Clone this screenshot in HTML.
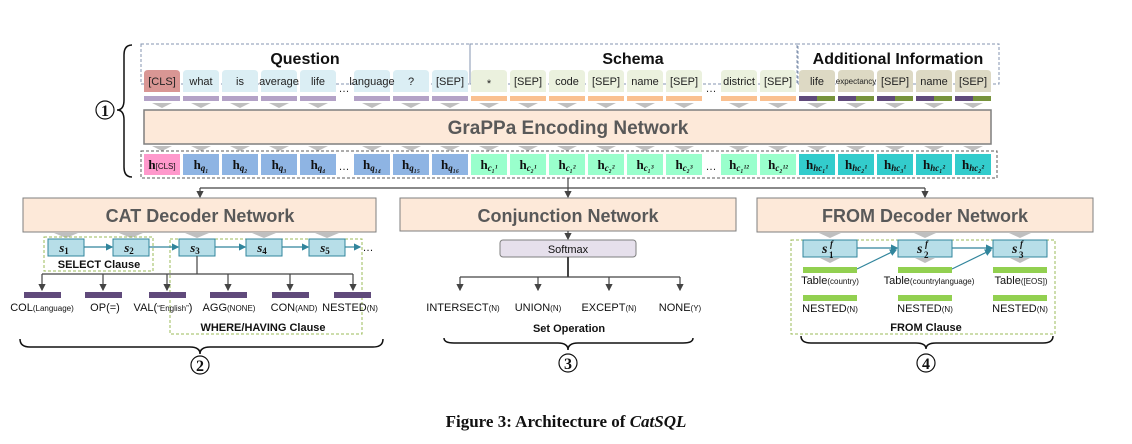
<!DOCTYPE html>
<html><head><meta charset="utf-8"><style>
html,body{margin:0;padding:0;background:#fff;}
svg{display:block;}
.tok{font-family:"Liberation Sans",sans-serif;font-size:11px;fill:#222;text-anchor:middle;}
.h{font-family:"Liberation Serif",serif;font-weight:bold;font-size:13px;fill:#111;text-anchor:middle;}
.sub{font-family:"Liberation Serif",serif;font-style:italic;font-weight:bold;font-size:9px;}
.lab{font-family:"Liberation Sans",sans-serif;font-size:11px;fill:#111;text-anchor:middle;}
.sm{font-size:8px;}
.big{font-family:"Liberation Sans",sans-serif;font-weight:bold;font-size:19px;fill:#595959;text-anchor:middle;}
.hd{font-family:"Liberation Sans",sans-serif;font-weight:bold;font-size:16px;fill:#111;text-anchor:middle;}
.cl{font-family:"Liberation Sans",sans-serif;font-weight:bold;font-size:11px;fill:#111;text-anchor:middle;}
.circ{font-family:"Liberation Serif",serif;font-weight:bold;font-size:16px;fill:#111;text-anchor:middle;}
.sf{font-family:"Liberation Serif",serif;font-weight:bold;font-style:italic;fill:#111;}
</style></head><body>
<svg width="1132" height="444" viewBox="0 0 1132 444" xmlns="http://www.w3.org/2000/svg">
<defs>
<marker id="ar" markerWidth="6" markerHeight="6" refX="5" refY="3" orient="auto"><path d="M0,0 L6,3 L0,6 z" fill="#444"/></marker>
<marker id="ab" markerWidth="6" markerHeight="6" refX="5" refY="3" orient="auto"><path d="M0,0 L6,3 L0,6 z" fill="#31859c"/></marker>
</defs>

<rect x="141" y="44" width="329" height="40" fill="none" stroke="#8496b0" stroke-dasharray="3,2"/>
<rect x="470" y="44" width="328" height="40" fill="none" stroke="#8496b0" stroke-dasharray="3,2"/>
<rect x="797" y="44" width="202" height="40" fill="none" stroke="#8496b0" stroke-dasharray="3,2"/>
<text x="305" y="64" class="hd">Question</text>
<text x="633" y="64" class="hd">Schema</text>
<text x="898" y="64" class="hd">Additional Information</text>

<g>
<path d="M144,92 V74 Q144,70 148,70 H176 Q180,70 180,74 V92 Z" fill="#d99694"/>
<path d="M183,92 V74 Q183,70 187,70 H215 Q219,70 219,74 V92 Z" fill="#dbeef4"/>
<path d="M222,92 V74 Q222,70 226,70 H254 Q258,70 258,74 V92 Z" fill="#dbeef4"/>
<path d="M261,92 V74 Q261,70 265,70 H293 Q297,70 297,74 V92 Z" fill="#dbeef4"/>
<path d="M300,92 V74 Q300,70 304,70 H332 Q336,70 336,74 V92 Z" fill="#dbeef4"/>
<path d="M354,92 V74 Q354,70 358,70 H386 Q390,70 390,74 V92 Z" fill="#dbeef4"/>
<path d="M393,92 V74 Q393,70 397,70 H425 Q429,70 429,74 V92 Z" fill="#dbeef4"/>
<path d="M432,92 V74 Q432,70 436,70 H464 Q468,70 468,74 V92 Z" fill="#dbeef4"/>
<path d="M471,92 V74 Q471,70 475,70 H503 Q507,70 507,74 V92 Z" fill="#ebf1de"/>
<path d="M510,92 V74 Q510,70 514,70 H542 Q546,70 546,74 V92 Z" fill="#ebf1de"/>
<path d="M549,92 V74 Q549,70 553,70 H581 Q585,70 585,74 V92 Z" fill="#ebf1de"/>
<path d="M588,92 V74 Q588,70 592,70 H620 Q624,70 624,74 V92 Z" fill="#ebf1de"/>
<path d="M627,92 V74 Q627,70 631,70 H659 Q663,70 663,74 V92 Z" fill="#ebf1de"/>
<path d="M666,92 V74 Q666,70 670,70 H698 Q702,70 702,74 V92 Z" fill="#ebf1de"/>
<path d="M721,92 V74 Q721,70 725,70 H753 Q757,70 757,74 V92 Z" fill="#ebf1de"/>
<path d="M760,92 V74 Q760,70 764,70 H792 Q796,70 796,74 V92 Z" fill="#ebf1de"/>
<path d="M799,92 V74 Q799,70 803,70 H831 Q835,70 835,74 V92 Z" fill="#ddd9c4"/>
<path d="M838,92 V74 Q838,70 842,70 H870 Q874,70 874,74 V92 Z" fill="#ddd9c4"/>
<path d="M877,92 V74 Q877,70 881,70 H909 Q913,70 913,74 V92 Z" fill="#ddd9c4"/>
<path d="M916,92 V74 Q916,70 920,70 H948 Q952,70 952,74 V92 Z" fill="#ddd9c4"/>
<path d="M955,92 V74 Q955,70 959,70 H987 Q991,70 991,74 V92 Z" fill="#ddd9c4"/>
</g>
<text x="162" y="85" class="tok">[CLS]</text>
<text x="201" y="85" class="tok">what</text>
<text x="240" y="85" class="tok">is</text>
<text x="279" y="85" class="tok">average</text>
<text x="318" y="85" class="tok">life</text>
<text x="344" y="92" class="tok">…</text>
<text x="372" y="85" class="tok">language</text>
<text x="411" y="85" class="tok">?</text>
<text x="450" y="85" class="tok">[SEP]</text>
<text x="489" y="87" class="tok">*</text>
<text x="528" y="85" class="tok">[SEP]</text>
<text x="567" y="85" class="tok">code</text>
<text x="606" y="85" class="tok">[SEP]</text>
<text x="645" y="85" class="tok">name</text>
<text x="684" y="85" class="tok">[SEP]</text>
<text x="711" y="92" class="tok">…</text>
<text x="739" y="85" class="tok">district</text>
<text x="778" y="85" class="tok">[SEP]</text>
<text x="817" y="85" class="tok">life</text>
<text x="856" y="84" class="tok" style="font-size:8px">expectancy</text>
<text x="895" y="85" class="tok">[SEP]</text>
<text x="934" y="85" class="tok">name</text>
<text x="973" y="85" class="tok">[SEP]</text>

<g fill="#b3a2c7">
<rect x="144" y="96" width="36" height="5"/><rect x="183" y="96" width="36" height="5"/><rect x="222" y="96" width="36" height="5"/><rect x="261" y="96" width="36" height="5"/><rect x="300" y="96" width="36" height="5"/><rect x="354" y="96" width="36" height="5"/><rect x="393" y="96" width="36" height="5"/><rect x="432" y="96" width="36" height="5"/>
</g>
<g fill="#fac090">
<rect x="471" y="96" width="36" height="5"/><rect x="510" y="96" width="36" height="5"/><rect x="549" y="96" width="36" height="5"/><rect x="588" y="96" width="36" height="5"/><rect x="627" y="96" width="36" height="5"/><rect x="666" y="96" width="36" height="5"/><rect x="721" y="96" width="36" height="5"/><rect x="760" y="96" width="36" height="5"/>
</g>
<g>
<rect x="799" y="96" width="18" height="5" fill="#604a7b"/><rect x="817" y="96" width="18" height="5" fill="#77933c"/>
<rect x="838" y="96" width="18" height="5" fill="#604a7b"/><rect x="856" y="96" width="18" height="5" fill="#77933c"/>
<rect x="877" y="96" width="18" height="5" fill="#604a7b"/><rect x="895" y="96" width="18" height="5" fill="#77933c"/>
<rect x="916" y="96" width="18" height="5" fill="#604a7b"/><rect x="934" y="96" width="18" height="5" fill="#77933c"/>
<rect x="955" y="96" width="18" height="5" fill="#604a7b"/><rect x="973" y="96" width="18" height="5" fill="#77933c"/>
</g>

<g fill="#bfbfbf">
<path d="M152,103 h20 l-10,5z"/><path d="M191,103 h20 l-10,5z"/><path d="M230,103 h20 l-10,5z"/><path d="M269,103 h20 l-10,5z"/><path d="M308,103 h20 l-10,5z"/><path d="M362,103 h20 l-10,5z"/><path d="M401,103 h20 l-10,5z"/><path d="M440,103 h20 l-10,5z"/><path d="M479,103 h20 l-10,5z"/><path d="M518,103 h20 l-10,5z"/><path d="M557,103 h20 l-10,5z"/><path d="M596,103 h20 l-10,5z"/><path d="M635,103 h20 l-10,5z"/><path d="M674,103 h20 l-10,5z"/><path d="M729,103 h20 l-10,5z"/><path d="M768,103 h20 l-10,5z"/><path d="M807,103 h20 l-10,5z"/><path d="M846,103 h20 l-10,5z"/><path d="M885,103 h20 l-10,5z"/><path d="M924,103 h20 l-10,5z"/><path d="M963,103 h20 l-10,5z"/>
<path d="M152,146 h20 l-10,5z"/><path d="M191,146 h20 l-10,5z"/><path d="M230,146 h20 l-10,5z"/><path d="M269,146 h20 l-10,5z"/><path d="M308,146 h20 l-10,5z"/><path d="M362,146 h20 l-10,5z"/><path d="M401,146 h20 l-10,5z"/><path d="M440,146 h20 l-10,5z"/><path d="M479,146 h20 l-10,5z"/><path d="M518,146 h20 l-10,5z"/><path d="M557,146 h20 l-10,5z"/><path d="M596,146 h20 l-10,5z"/><path d="M635,146 h20 l-10,5z"/><path d="M674,146 h20 l-10,5z"/><path d="M729,146 h20 l-10,5z"/><path d="M768,146 h20 l-10,5z"/><path d="M807,146 h20 l-10,5z"/><path d="M846,146 h20 l-10,5z"/><path d="M885,146 h20 l-10,5z"/><path d="M924,146 h20 l-10,5z"/><path d="M963,146 h20 l-10,5z"/>
</g>

<rect x="144" y="110" width="847" height="34" fill="#fde9d9" stroke="#7f7f7f" stroke-width="1.5"/>
<text x="568" y="134" class="big">GraPPa Encoding Network</text>

<rect x="141" y="151" width="856" height="27" fill="none" stroke="#595959" stroke-dasharray="3,2"/>
<g>
<rect x="144" y="154" width="36" height="21" fill="#ff99cc"/>
<rect x="183" y="154" width="36" height="21" fill="#8eb4e3"/><rect x="222" y="154" width="36" height="21" fill="#8eb4e3"/><rect x="261" y="154" width="36" height="21" fill="#8eb4e3"/><rect x="300" y="154" width="36" height="21" fill="#8eb4e3"/><rect x="354" y="154" width="36" height="21" fill="#8eb4e3"/><rect x="393" y="154" width="36" height="21" fill="#8eb4e3"/><rect x="432" y="154" width="36" height="21" fill="#8eb4e3"/>
<rect x="471" y="154" width="36" height="21" fill="#99ffcc"/><rect x="510" y="154" width="36" height="21" fill="#99ffcc"/><rect x="549" y="154" width="36" height="21" fill="#99ffcc"/><rect x="588" y="154" width="36" height="21" fill="#99ffcc"/><rect x="627" y="154" width="36" height="21" fill="#99ffcc"/><rect x="666" y="154" width="36" height="21" fill="#99ffcc"/><rect x="721" y="154" width="36" height="21" fill="#99ffcc"/><rect x="760" y="154" width="36" height="21" fill="#99ffcc"/>
<rect x="799" y="154" width="36" height="21" fill="#33cccc"/><rect x="838" y="154" width="36" height="21" fill="#33cccc"/><rect x="877" y="154" width="36" height="21" fill="#33cccc"/><rect x="916" y="154" width="36" height="21" fill="#33cccc"/><rect x="955" y="154" width="36" height="21" fill="#33cccc"/>
</g>
<text x="162" y="169" class="h">h<tspan class="sub" style="font-style:normal;font-family:'Liberation Sans';font-weight:normal;font-size:8px">[CLS]</tspan></text>
<text x="201" y="169" class="h">h<tspan class="sub" dy="2">q₁</tspan></text>
<text x="240" y="169" class="h">h<tspan class="sub" dy="2">q₂</tspan></text>
<text x="279" y="169" class="h">h<tspan class="sub" dy="2">q₃</tspan></text>
<text x="318" y="169" class="h">h<tspan class="sub" dy="2">q₄</tspan></text>
<text x="344" y="170" class="tok">…</text>
<text x="372" y="169" class="h">h<tspan class="sub" dy="2">q₁₄</tspan></text>
<text x="411" y="169" class="h">h<tspan class="sub" dy="2">q₁₅</tspan></text>
<text x="450" y="169" class="h">h<tspan class="sub" dy="2">q₁₆</tspan></text>
<text x="489" y="169" class="h">h<tspan class="sub" dy="2">c₁¹</tspan></text>
<text x="528" y="169" class="h">h<tspan class="sub" dy="2">c₂¹</tspan></text>
<text x="567" y="169" class="h">h<tspan class="sub" dy="2">c₁²</tspan></text>
<text x="606" y="169" class="h">h<tspan class="sub" dy="2">c₂²</tspan></text>
<text x="645" y="169" class="h">h<tspan class="sub" dy="2">c₁³</tspan></text>
<text x="684" y="169" class="h">h<tspan class="sub" dy="2">c₂³</tspan></text>
<text x="711" y="170" class="tok">…</text>
<text x="739" y="169" class="h">h<tspan class="sub" dy="2">c₁¹²</tspan></text>
<text x="778" y="169" class="h">h<tspan class="sub" dy="2">c₂¹²</tspan></text>
<text x="817" y="169" class="h">h<tspan class="sub" dy="2">hc₁¹</tspan></text>
<text x="856" y="169" class="h">h<tspan class="sub" dy="2">hc₂¹</tspan></text>
<text x="895" y="169" class="h">h<tspan class="sub" dy="2">hc₃¹</tspan></text>
<text x="934" y="169" class="h">h<tspan class="sub" dy="2">hc₁²</tspan></text>
<text x="973" y="169" class="h">h<tspan class="sub" dy="2">hc₂²</tspan></text>

<path d="M132,45 Q124,45 124,55 V100 Q124,110 117,110 Q124,110 124,120 V167 Q124,177 132,177" fill="none" stroke="#111" stroke-width="1.5"/>
<circle cx="105" cy="110" r="9" fill="#fff" stroke="#111" stroke-width="1.2"/>
<text x="105" y="116" class="circ">1</text>

<g stroke="#444" stroke-width="1.2" fill="none">
<path d="M568,178 V188"/>
<path d="M200,188 H925"/>
<path d="M200,188 V197" marker-end="url(#ar)"/>
<path d="M568,188 V197" marker-end="url(#ar)"/>
<path d="M925,188 V197" marker-end="url(#ar)"/>
</g>

<rect x="23" y="198" width="353" height="34" fill="#fde9d9" stroke="#7f7f7f"/>
<text x="200" y="222" class="big" style="font-size:18px">CAT Decoder Network</text>
<rect x="400" y="198" width="336" height="33" fill="#fde9d9" stroke="#7f7f7f"/>
<text x="568" y="222" class="big" style="font-size:18px">Conjunction Network</text>
<rect x="757" y="198" width="336" height="34" fill="#fde9d9" stroke="#7f7f7f"/>
<text x="925" y="222" class="big" style="font-size:18px">FROM Decoder Network</text>

<g fill="#bfbfbf">
<path d="M54,233 h24 l-12,5z"/><path d="M119,233 h24 l-12,5z"/><path d="M185,233 h24 l-12,5z"/><path d="M252,233 h24 l-12,5z"/><path d="M315,233 h24 l-12,5z"/>
</g>
<rect x="44" y="237" width="109" height="34" fill="none" stroke="#9bbb59" stroke-dasharray="3,2"/>
<rect x="170" y="239" width="192" height="95" fill="none" stroke="#9bbb59" stroke-dasharray="3,2"/>
<g fill="#b7dee8" stroke="#31859c">
<rect x="48" y="239" width="36" height="17"/><rect x="113" y="239" width="36" height="17"/><rect x="179" y="239" width="36" height="17"/><rect x="246" y="239" width="36" height="17"/><rect x="309" y="239" width="36" height="17"/>
</g>
<g stroke="#31859c" stroke-width="1.2" fill="none">
<path d="M84,247 H112" marker-end="url(#ab)"/><path d="M149,247 H178" marker-end="url(#ab)"/><path d="M215,247 H245" marker-end="url(#ab)"/><path d="M282,247 H308" marker-end="url(#ab)"/><path d="M345,247 H360" marker-end="url(#ab)"/>
</g>
<text x="368" y="251" class="lab">…</text>
<g class="h" style="font-size:13px;font-style:italic">
<text x="64" y="252">s<tspan class="sub" style="font-style:normal" dy="2">1</tspan></text>
<text x="129" y="252">s<tspan class="sub" style="font-style:normal" dy="2">2</tspan></text>
<text x="195" y="252">s<tspan class="sub" style="font-style:normal" dy="2">3</tspan></text>
<text x="262" y="252">s<tspan class="sub" style="font-style:normal" dy="2">4</tspan></text>
<text x="325" y="252">s<tspan class="sub" style="font-style:normal" dy="2">5</tspan></text>
</g>
<text x="99" y="268" class="cl">SELECT Clause</text>
<g stroke="#444" stroke-width="1.2" fill="none">
<path d="M197,256 V274"/>
<path d="M42,274 H353"/>
<path d="M42,274 V290" marker-end="url(#ar)"/><path d="M103,274 V290" marker-end="url(#ar)"/><path d="M167,274 V290" marker-end="url(#ar)"/><path d="M228,274 V290" marker-end="url(#ar)"/><path d="M290,274 V290" marker-end="url(#ar)"/><path d="M353,274 V290" marker-end="url(#ar)"/>
</g>
<g fill="#604a7b">
<rect x="24" y="292" width="37" height="6"/><rect x="85" y="292" width="37" height="6"/><rect x="149" y="292" width="37" height="6"/><rect x="210" y="292" width="37" height="6"/><rect x="272" y="292" width="37" height="6"/><rect x="334" y="292" width="37" height="6"/>
</g>
<text x="42" y="311" class="lab">COL<tspan class="sm">(Language)</tspan></text>
<text x="105" y="311" class="lab">OP(=)</text>
<text x="163" y="311" class="lab">VAL(<tspan class="sm">“English”</tspan>)</text>
<text x="229" y="311" class="lab">AGG<tspan class="sm">(NONE)</tspan></text>
<text x="294" y="311" class="lab">CON<tspan class="sm">(AND)</tspan></text>
<text x="350" y="311" class="lab">NESTED<tspan class="sm">(N)</tspan></text>
<text x="263" y="331" class="cl">WHERE/HAVING Clause</text>
<path d="M20,339 Q20,347 30,347 H190 Q200,347 200,354 Q200,347 210,347 H373 Q383,347 383,339" fill="none" stroke="#111" stroke-width="1.5"/>
<circle cx="200" cy="365" r="9" fill="#fff" stroke="#111" stroke-width="1.2"/>
<text x="200" y="371" class="circ">2</text>

<path d="M568,231 V239" stroke="#444" stroke-width="1.2" marker-end="url(#ar)"/>
<rect x="500" y="240" width="136" height="17" rx="3" fill="#e6e0ec" stroke="#7f7f7f"/>
<text x="568" y="253" class="lab">Softmax</text>
<g stroke="#444" stroke-width="1.2" fill="none">
<path d="M568,257 V277" stroke-width="2"/>
<path d="M460,277 H680"/>
<path d="M460,277 V290" marker-end="url(#ar)"/><path d="M538,277 V290" marker-end="url(#ar)"/><path d="M609,277 V290" marker-end="url(#ar)"/><path d="M680,277 V290" marker-end="url(#ar)"/>
</g>
<text x="463" y="311" class="lab">INTERSECT<tspan class="sm">(N)</tspan></text>
<text x="538" y="311" class="lab">UNION<tspan class="sm">(N)</tspan></text>
<text x="609" y="311" class="lab">EXCEPT<tspan class="sm">(N)</tspan></text>
<text x="680" y="311" class="lab">NONE<tspan class="sm">(Y)</tspan></text>
<text x="569" y="332" class="cl">Set Operation</text>
<path d="M444,338 Q444,343 454,343 H558 Q568,343 568,350 Q568,343 578,343 H683 Q693,343 693,338" fill="none" stroke="#111" stroke-width="1.5"/>
<circle cx="568" cy="363" r="9" fill="#fff" stroke="#111" stroke-width="1.2"/>
<text x="568" y="369" class="circ">3</text>

<g fill="#bfbfbf">
<path d="M819,233 h22 l-11,5z"/><path d="M914,233 h22 l-11,5z"/><path d="M1009,233 h22 l-11,5z"/>
<path d="M820,258 h20 l-10,5z"/><path d="M915,258 h20 l-10,5z"/><path d="M1010,258 h20 l-10,5z"/>
</g>
<rect x="791" y="240" width="264" height="94" fill="none" stroke="#9bbb59" stroke-dasharray="3,2"/>
<g fill="#b7dee8" stroke="#31859c">
<rect x="803" y="240" width="54" height="17"/><rect x="898" y="240" width="54" height="17"/><rect x="993" y="240" width="54" height="17"/>
</g>
<g stroke="#31859c" stroke-width="1.2" fill="none">
<path d="M857,248 H897" marker-end="url(#ab)"/><path d="M952,248 H992" marker-end="url(#ab)"/>
<path d="M857,269 L896,250" marker-end="url(#ab)"/><path d="M952,269 L991,250" marker-end="url(#ab)"/>
</g>
<text x="822" y="253" class="sf" style="font-size:14px">s</text><text x="830" y="247" class="sf" style="font-size:9px">f</text><text x="829" y="258" class="sf" style="font-size:9px;font-style:normal">1</text>
<text x="917" y="253" class="sf" style="font-size:14px">s</text><text x="925" y="247" class="sf" style="font-size:9px">f</text><text x="924" y="258" class="sf" style="font-size:9px;font-style:normal">2</text>
<text x="1012" y="253" class="sf" style="font-size:14px">s</text><text x="1020" y="247" class="sf" style="font-size:9px">f</text><text x="1019" y="258" class="sf" style="font-size:9px;font-style:normal">3</text>
<g fill="#92d050">
<rect x="803" y="267" width="54" height="6"/><rect x="898" y="267" width="54" height="6"/><rect x="993" y="267" width="54" height="6"/>
<rect x="803" y="295" width="54" height="6"/><rect x="898" y="295" width="54" height="6"/><rect x="993" y="295" width="54" height="6"/>
</g>
<text x="830" y="284" class="lab">Table<tspan class="sm">(country)</tspan></text>
<text x="929" y="284" class="lab">Table<tspan class="sm">(countrylanguage)</tspan></text>
<text x="1021" y="284" class="lab">Table<tspan class="sm">([EOS])</tspan></text>
<text x="830" y="312" class="lab">NESTED<tspan class="sm">(N)</tspan></text>
<text x="925" y="312" class="lab">NESTED<tspan class="sm">(N)</tspan></text>
<text x="1020" y="312" class="lab">NESTED<tspan class="sm">(N)</tspan></text>
<text x="926" y="331" class="cl">FROM Clause</text>
<path d="M801,336 Q801,343 811,343 H916 Q926,343 926,349 Q926,343 936,343 H1043 Q1053,343 1053,336" fill="none" stroke="#111" stroke-width="1.5"/>
<circle cx="926" cy="363" r="9" fill="#fff" stroke="#111" stroke-width="1.2"/>
<text x="926" y="369" class="circ">4</text>

<text x="566" y="427" style="font-family:'Liberation Serif',serif;font-weight:bold;font-size:17px;fill:#111" text-anchor="middle">Figure 3: Architecture of <tspan font-style="italic">CatSQL</tspan></text>
</svg>
</body></html>
